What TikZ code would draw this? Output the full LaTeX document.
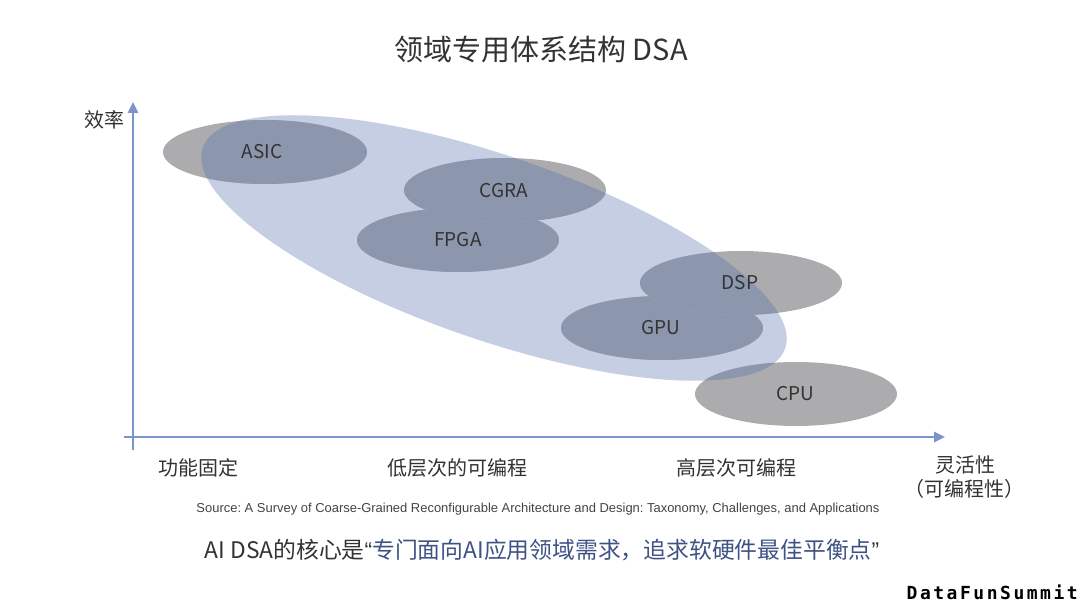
\documentclass[tikz,border=0pt]{standalone}
\usepackage{fontspec}
\setmainfont{Noto Sans CJK SC}
\newfontfamily\srcfont{Liberation Sans}
\newfontfamily\dfmono[LetterSpace=14]{DejaVu Sans Mono}
\usetikzlibrary{arrows.meta}
\definecolor{bigblue}{HTML}{C5CEE3}
\definecolor{grayE}{HTML}{ACACAE}
\definecolor{overlapc}{HTML}{8C97AE}
\definecolor{axisc}{HTML}{7C95C9}
\definecolor{textdark}{HTML}{333333}
\definecolor{bluetxt}{HTML}{3F5285}
\definecolor{srcc}{HTML}{444444}
\frenchspacing
\begin{document}
\begin{tikzpicture}[x=1pt,y=-1pt,
  lbl/.style={inner sep=0pt, text=textdark, font=\fontsize{20}{24}\selectfont},
  elltext/.style={inner sep=0pt, text=textdark, font=\fontsize{19}{22}\selectfont},
  axisline/.style={draw=axisc, line width=2.6pt, -{Triangle[length=11pt,width=10pt]}},
  bigell/.style={rotate around={-19:(494,248)}}]
\useasboundingbox (0,0) rectangle (1080,604);
\fill[white] (0,0) rectangle (1080,604);

% title
\node[inner sep=0pt, text=textdark, font=\fontsize{29}{36}\selectfont] (title) at (541,50) {领域专用体系结构 DSA};

% big ellipse
\fill[bigblue, bigell] (494,248) ellipse [x radius=308, y radius=92];

% small ellipses
\foreach \x/\y/\rx in {458/240/101, 505/190/101, 265/152/102, 662/328/101, 741/283/101, 796/394/101} {
  \fill[grayE] (\x,\y) ellipse [x radius=\rx, y radius=32];
  \begin{scope}
    \clip[bigell] (494,248) ellipse [x radius=308, y radius=92];
    \fill[overlapc] (\x,\y) ellipse [x radius=\rx, y radius=32];
  \end{scope}
}

% labels in ellipses
\node[elltext] (asic) at (262,152) {ASIC};
\node[elltext] (cgra) at (504,191) {CGRA};
\node[elltext] (fpga) at (458,240) {FPGA};
\node[elltext] (dsp) at (740,283) {DSP};
\node[elltext] (gpu) at (661,328) {GPU};
\node[elltext] (cpu) at (795,394) {CPU};

% axes
\coordinate (ybot) at (133,450);
\coordinate (ytop) at (133,102);
\coordinate (xl) at (124,437);
\coordinate (xr) at (945,437);
\draw[axisline] (ybot) -- (ytop);
\draw[axisline] (xl) -- (xr);

% axis labels
\node[lbl] (eff) at (104,120) {效率};
\node[lbl] (fixed) at (198,468) {功能固定};
\node[lbl] (low) at (457,468) {低层次的可编程};
\node[lbl] (high) at (736,468) {高层次可编程};
\node[lbl] (flex) at (965,465) {灵活性};
\node[lbl] (prog) at (964,489) {（可编程性）};

% source
\node[inner sep=0pt, text=srcc] (src) at (538,509) {\resizebox{683pt}{!}{\srcfont\fontsize{12}{14}\selectfont Source: A Survey of Coarse-Grained Reconfigurable Architecture and Design: Taxonomy, Challenges, and Applications}};

% bottom statement
\node[inner sep=0pt, font=\fontsize{22.8}{27}\selectfont, text=textdark] (core) at (542,550) {AI DSA的核心是{\srcfont “}\textcolor{bluetxt}{专门面向AI应用领域需求，追求软硬件最佳平衡点}{\srcfont ”}};

% logo
\node[inner sep=0pt, anchor=east, text=black, font=\dfmono\bfseries\fontsize{18}{20}\selectfont] (logo) at (1078,592) {DataFunSummit};
\end{tikzpicture}
\end{document}
